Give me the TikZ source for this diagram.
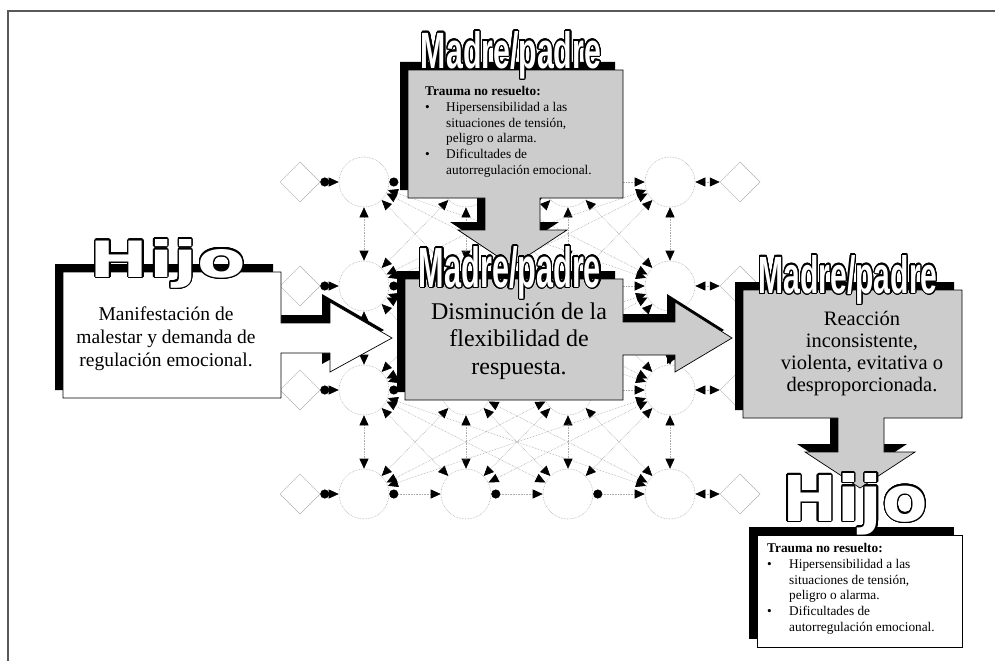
\documentclass[tikz,border=0pt]{standalone}
\usepackage{fontspec}
\usepackage{graphicx}
\usepackage{contour}
\setmainfont{Liberation Serif}
\newfontfamily\madrefont{Liberation Sans}
\newfontfamily\hijofont{DejaVu Sans}
\usetikzlibrary{arrows.meta,shapes.geometric}
\contourlength{1.2pt}
\contournumber{24}

\newcommand{\bigword}[4]{\textcolor{white}{\contour{black}{\resizebox{#2}{#3}{#1\bfseries #4}}}}

\newcommand{\hijopath}{(63,272) -- (281,272) -- (281,323) -- (330,323) -- (330,302) -- (392,338) -- (330,372) -- (330,353) -- (281,353) -- (281,398) -- (63,398) -- cycle}
\newcommand{\midpath}{(405,279) -- (623,279) -- (623,322) -- (675,322) -- (675,302) -- (732,338) -- (675,372) -- (675,355) -- (623,355) -- (623,400) -- (405,400) -- cycle}
\newcommand{\toppath}{(408,70) -- (623,70) -- (623,198) -- (540,198) -- (540,230) -- (567,230) -- (512,266) -- (458,230) -- (485,230) -- (485,198) -- (408,198) -- cycle}
\newcommand{\rightpath}{(743,290) -- (962,290) -- (962,418) -- (884,418) -- (884,452) -- (915,452) -- (860,488) -- (805,452) -- (838,452) -- (838,418) -- (743,418) -- cycle}
\newcommand{\lastboxpath}{(757,535) rectangle (962,647)}

\begin{document}
\begin{tikzpicture}[x=1pt, y=-1pt,
    unit/.style={circle, draw=gray!65, densely dotted, line width=0.6pt, minimum size=50pt, inner sep=0pt},
    gate/.style={diamond, draw=gray!60, line width=0.5pt, minimum width=40pt, minimum height=40pt, inner sep=0pt},
    link/.style={densely dotted, gray!65, line width=0.6pt, {Triangle[length=10pt,width=9pt,color=black]}-{Triangle[length=10pt,width=9pt,color=black]}},
    feed/.style={densely dotted, gray!65, line width=0.6pt, {Circle[length=9pt,color=black]}-{Triangle[length=10pt,width=9pt,color=black]}},
    drop/.style={fill=black, shift={(-8,-8)}},
    plainbox/.style={fill=white, draw=black, line width=0.7pt},
    greybox/.style={fill=black!20, draw=black, line width=0.7pt},
    heading/.style={inner sep=0pt, anchor=base},
    bigtext/.style={align=center, inner sep=0pt},
    listtext/.style={align=left, inner sep=0pt, anchor=north west, font=\fontsize{13.3}{15.8}\selectfont}
]
    \fill[white] (0,0) rectangle (995,661);
    \useasboundingbox (0,0) rectangle (995,661);
    \draw[gray!70!black, line width=1.6pt] (995,11) -- (8,11) -- (8,661);

    \foreach \r/\y in {1/182,2/286,3/390,4/494} {
        \foreach \c/\x in {1/364,2/466,3/568,4/670}
            \node[unit] (u\c\r) at (\x,\y) {};
        \node[gate] (dl\r) at (300,\y) {};
        \node[gate] (dr\r) at (740,\y) {};
    }
    \foreach \r/\s in {1/2,2/3,3/4}
        \foreach \i in {1,...,4}
            \foreach \j in {1,...,4}
                \draw[link] (u\i\r) -- (u\j\s);
    \foreach \r in {1,...,4} {
        \draw[feed] (dl\r) -- (u1\r);
        \draw[feed] (u1\r) -- (u2\r);
        \draw[feed] (u2\r) -- (u3\r);
        \draw[feed] (u3\r) -- (u4\r);
        \draw[link] (u4\r) -- (dr\r);
    }

    \fill[drop] \hijopath;
    \draw[plainbox] \hijopath;
    \fill[drop] \toppath;
    \draw[greybox] \toppath;
    \fill[drop] \midpath;
    \draw[greybox] \midpath;
    \fill[drop] \rightpath;
    \draw[greybox] \rightpath;
    \fill[drop] \lastboxpath;
    \draw[plainbox] \lastboxpath;

    \node[bigtext, font=\fontsize{19.5}{23}\selectfont] (askbody) at (166,339) {Manifestación de\\malestar y demanda de\\regulación emocional.};
    \node[bigtext, font=\fontsize{24}{27.5}\selectfont] (flexbody) at (519,341) {Disminución de la\\flexibilidad de\\respuesta.};
    \node[bigtext, font=\fontsize{20.5}{22}\selectfont] (reactbody) at (862,354) {Reacción\\inconsistente,\\violenta, evitativa o\\desproporcionada.};
    \node[listtext] (toplist) at (425,86) {\textbf{Trauma no resuelto:}\\
        \makebox[21pt][l]{\textbullet}Hipersensibilidad a las\\
        \hspace*{21pt}situaciones de tensión,\\
        \hspace*{21pt}peligro o alarma.\\
        \makebox[21pt][l]{\textbullet}Dificultades de\\
        \hspace*{21pt}autorregulación emocional.};
    \node[listtext] (endlist) at (767,543) {\textbf{Trauma no resuelto:}\\
        \makebox[22pt][l]{\textbullet}Hipersensibilidad a las\\
        \hspace*{22pt}situaciones de tensión,\\
        \hspace*{22pt}peligro o alarma.\\
        \makebox[22pt][l]{\textbullet}Dificultades de\\
        \hspace*{22pt}autorregulación emocional.};

    \node[heading] (hijoleft) at (168,277) {\bigword{\hijofont}{156pt}{38pt}{Hijo}};
    \node[heading] (madretop) at (511,68) {\bigword{\madrefont}{180pt}{37pt}{Madre/padre}};
    \node[heading] (madremid) at (510,287) {\bigword{\madrefont}{182pt}{41pt}{Madre/padre}};
    \node[heading] (madreright) at (848,293) {\bigword{\madrefont}{179pt}{38pt}{Madre/padre}};
    \node[heading] (hijoend) at (855,521) {\bigword{\hijofont}{146pt}{48pt}{Hijo}};
\end{tikzpicture}
\end{document}
